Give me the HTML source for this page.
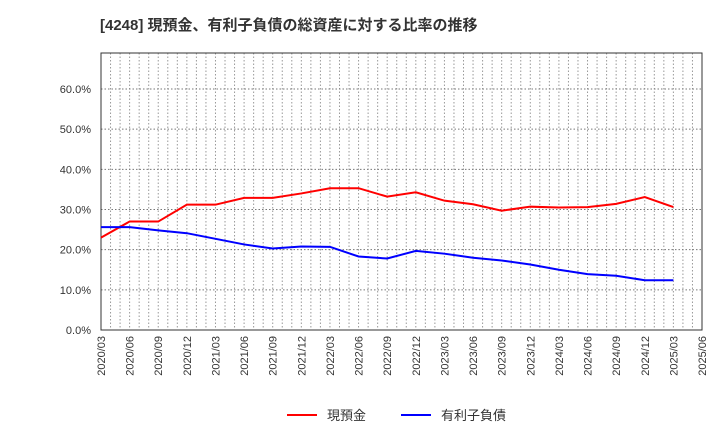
<!DOCTYPE html>
<html><head><meta charset="utf-8"><style>
body{margin:0;background:#fff;font-family:"Liberation Sans","Noto Sans CJK JP",sans-serif;}
</style></head><body>
<svg id="c" width="720" height="440" xmlns="http://www.w3.org/2000/svg" style="font-family:'Liberation Sans','Noto Sans CJK JP',sans-serif">
<text x="100" y="30" font-size="15" font-weight="bold" fill="#333">[4248]  現預金、有利子負債の総資産に対する比率の推移</text>
<g id="grid"></g><g id="axes"></g><g id="series"></g>
<g>
<line x1="287" y1="415" x2="317" y2="415" stroke="#f00" stroke-width="2"/>
<text x="327" y="420" font-size="13" fill="#333">現預金</text>
<line x1="401" y1="415" x2="431" y2="415" stroke="#00f" stroke-width="2"/>
<text x="441" y="420" font-size="13" fill="#333">有利子負債</text>
</g>
</svg>
<script>
const categories=["2020/03","2020/06","2020/09","2020/12","2021/03","2021/06","2021/09","2021/12","2022/03","2022/06","2022/09","2022/12","2023/03","2023/06","2023/09","2023/12","2024/03","2024/06","2024/09","2024/12","2025/03","2025/06"];
const cashValues=[23.0,27.0,27.0,31.2,31.2,32.9,32.9,34.0,35.3,35.3,33.2,34.3,32.2,31.3,29.7,30.7,30.5,30.6,31.4,33.1,30.6];
const debtValues=[25.6,25.6,24.8,24.1,22.7,21.3,20.3,20.8,20.7,18.3,17.8,19.7,19.0,18.0,17.3,16.3,15.0,13.9,13.5,12.4,12.4];
const yTicks=[0,10,20,30,40,50,60];
const NS="http://www.w3.org/2000/svg";
const L=101,R=702,T=53,B=330;
const x=i=>L+i*(R-L)/(categories.length-1);
const y=v=>B-v*(B-89)/60;
function mk(p,t,a){const e=document.createElementNS(NS,t);for(const k in a)e.setAttribute(k,a[k]);p.appendChild(e);return e;}
const g=document.getElementById('grid'),ax=document.getElementById('axes'),s=document.getElementById('series');
for(let m=1;m<63;m++){const xx=L+m*(R-L)/63;const l=mk(g,'line',{x1:xx,x2:xx,y1:T,y2:B,stroke:'#999','stroke-dasharray':'1.5,2','stroke-width':1});

}
yTicks.forEach(v=>{if(v>0){const l=mk(g,'line',{x1:L,x2:R,y1:y(v),y2:y(v),stroke:'#777','stroke-dasharray':'1.5,2'});

}
const t=mk(ax,'text',{x:91,y:y(v)+4,'text-anchor':'end','font-size':11,fill:'#333'});t.textContent=v.toFixed(1)+'%';

});
const fr=mk(ax,'rect',{x:L,y:T,width:R-L,height:B-T,fill:'none',stroke:'#333','stroke-width':1});


categories.forEach((c,i)=>{const t=mk(ax,'text',{transform:`translate(${x(i)+4},${B+6}) rotate(-90)`,'text-anchor':'end','font-size':11,fill:'#333'});t.textContent=c;

});
function line(vals,col,name){const p=mk(s,'polyline',{points:vals.map((v,i)=>x(i)+','+y(v)).join(' '),fill:'none',stroke:col,'stroke-width':2});

}
line(cashValues,'#f00','cash-line');
line(debtValues,'#00f','debt-line');
</script>
</body></html>
